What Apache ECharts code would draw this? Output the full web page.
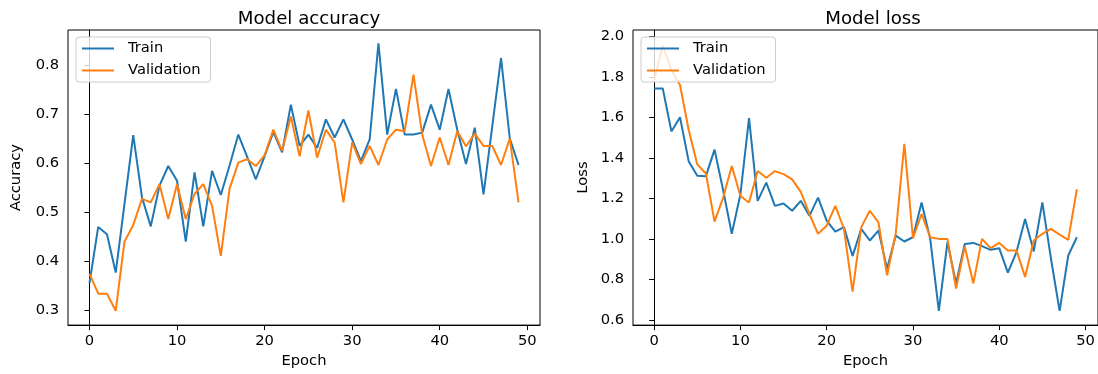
<!DOCTYPE html>
<html>
<head>
<meta charset="utf-8">
<script src="https://cdn.jsdelivr.net/npm/echarts@6/dist/echarts.min.js"></script>
<style>
html,body{margin:0;padding:0;background:#fff;}
#c{width:1098px;height:374px;}
</style>
</head>
<body>
<div id="c"></div>
<script>
const trainAcc = [0.355,0.470,0.455,0.377,0.517,0.657,0.53,0.471,0.554,0.594,
  0.564,0.440,0.581,0.471,0.584,0.535,0.595,0.658,0.613,0.567,
  0.614,0.663,0.622,0.719,0.635,0.658,0.631,0.689,0.652,0.689,
  0.648,0.604,0.648,0.844,0.658,0.751,0.658,0.658,0.662,0.719,
  0.668,0.751,0.668,0.598,0.672,0.536,0.675,0.814,0.65,0.596];
const valAcc = [0.375,0.334,0.334,0.299,0.44,0.474,0.527,0.52,0.557,0.486,
  0.557,0.486,0.537,0.557,0.513,0.411,0.548,0.601,0.608,0.594,
  0.616,0.668,0.625,0.695,0.614,0.707,0.611,0.668,0.642,0.52,
  0.642,0.598,0.635,0.596,0.648,0.668,0.665,0.78,0.658,0.594,
  0.652,0.596,0.665,0.634,0.66,0.635,0.635,0.596,0.65,0.52];
const trainLoss = [1.743,1.743,1.531,1.601,1.384,1.312,1.31,1.441,1.24,1.025,
  1.22,1.597,1.188,1.278,1.163,1.175,1.139,1.188,1.114,1.204,
  1.09,1.036,1.058,0.915,1.049,0.992,1.041,0.853,1.016,0.987,
  1.008,1.18,1.0,0.644,0.984,0.78,0.975,0.98,0.964,0.946,
  0.954,0.833,0.935,1.098,0.938,1.18,0.902,0.644,0.918,1.008];
const valLoss = [1.78,1.956,1.833,1.76,1.539,1.368,1.323,1.085,1.204,1.36,
  1.212,1.18,1.335,1.302,1.335,1.32,1.294,1.232,1.123,1.025,
  1.065,1.163,1.05,0.739,1.057,1.139,1.082,0.82,1.025,1.47,
  1.003,1.123,1.008,1.0,1.0,0.755,0.962,0.78,1.0,0.954,
  0.98,0.943,0.943,0.812,0.992,1.025,1.049,1.021,0.995,1.245];
const epochs = trainAcc.map((_, i) => i);
const xTicks = [0, 10, 20, 30, 40, 50];
const accTicks = [0.3, 0.4, 0.5, 0.6, 0.7, 0.8];
const lossTicks = [0.6, 0.8, 1.0, 1.2, 1.4, 1.6, 1.8, 2.0];
const titles = ['Model accuracy', 'Model loss'];
const yNames = ['Accuracy', 'Loss'];
const seriesNames = ['Train', 'Validation'];

const FONT = 'DejaVu Sans';
const BLUE = '#1f77b4', ORANGE = '#ff7f0e';
const pairs = arr => arr.map((v, i) => [epochs[i], v]);

function xAxis(gi) {
  return {
    type: 'value', gridIndex: gi, min: -2.45, max: 51.45,
    name: 'Epoch', nameLocation: 'middle', nameGap: 27,
    nameTextStyle: {fontFamily: FONT, fontSize: 14.7, color: '#000'},
    axisLine: {show: true, lineStyle: {color: '#000', width: 1}},
    axisTick: {show: true, inside: false, length: 5, lineStyle: {color: '#000'}, customValues: xTicks},
    axisLabel: {show: true, margin: 9, fontFamily: FONT, fontSize: 14.7, color: '#000', customValues: xTicks,
      formatter: v => String(v)},
    splitLine: {show: false}
  };
}
function yAxis(gi, min, max, ticks, name, gap, digits) {
  return {
    type: 'value', gridIndex: gi, min: min, max: max,
    name: name, nameLocation: 'middle', nameGap: gap, nameRotate: 90,
    nameTextStyle: {fontFamily: FONT, fontSize: 14.7, color: '#000'},
    axisLine: {show: true, lineStyle: {color: '#000', width: 1}},
    axisTick: {show: true, inside: false, length: 5, lineStyle: {color: '#000'}, customValues: ticks},
    axisLabel: {show: true, margin: 9, fontFamily: FONT, fontSize: 14.7, color: '#000', customValues: ticks,
      formatter: v => v.toFixed(digits)},
    splitLine: {show: false}
  };
}
function line(name, data, color, gi) {
  return {
    type: 'line', name: name, xAxisIndex: gi, yAxisIndex: gi,
    data: pairs(data), symbol: 'none', smooth: false,
    lineStyle: {color: color, width: 2}, itemStyle: {color: color},
    emphasis: {disabled: true}, animation: false
  };
}
function legend(left) {
  return {
    left: left, top: 37, orient: 'vertical',
    data: seriesNames,
    itemWidth: 32, itemHeight: 14, itemGap: 7,
    padding: [4, 10, 4, 5],
    backgroundColor: 'rgba(255,255,255,0.8)',
    borderColor: '#cccccc', borderWidth: 1, borderRadius: 3,
    itemStyle: {opacity: 0},
    lineStyle: {width: 2},
    textStyle: {fontFamily: FONT, fontSize: 14.7, color: '#000', padding: [0, 0, 0, 9]},
    selectedMode: false
  };
}

const chart = echarts.init(document.getElementById('c'), null, {renderer: 'canvas'});
chart.setOption({
  backgroundColor: '#fff',
  animation: false,
  title: [
    {text: titles[0], left: 304, top: 5, textAlign: 'center',
      textStyle: {fontFamily: FONT, fontSize: 18.2, fontWeight: 'normal', color: '#000'}},
    {text: titles[1], left: 868, top: 5, textAlign: 'center',
      textStyle: {fontFamily: FONT, fontSize: 18.2, fontWeight: 'normal', color: '#000'}}
  ],
  grid: [
    {left: 68, top: 30, width: 472, height: 297, show: true, borderColor: '#000', borderWidth: 1, backgroundColor: 'transparent'},
    {left: 633, top: 30, width: 470, height: 297, show: true, borderColor: '#000', borderWidth: 1, backgroundColor: 'transparent'}
  ],
  xAxis: [xAxis(0), xAxis(1)],
  yAxis: [
    yAxis(0, 0.270, 0.871, accTicks, yNames[0], 44, 1),
    yAxis(1, 0.574, 2.032, lossTicks, yNames[1], 42, 1)
  ],
  legend: [legend(76), legend(641)],
  series: [
    line(seriesNames[0], trainAcc, BLUE, 0),
    line(seriesNames[1], valAcc, ORANGE, 0),
    line(seriesNames[0], trainLoss, BLUE, 1),
    line(seriesNames[1], valLoss, ORANGE, 1)
  ]
});
</script>
</body>
</html>
